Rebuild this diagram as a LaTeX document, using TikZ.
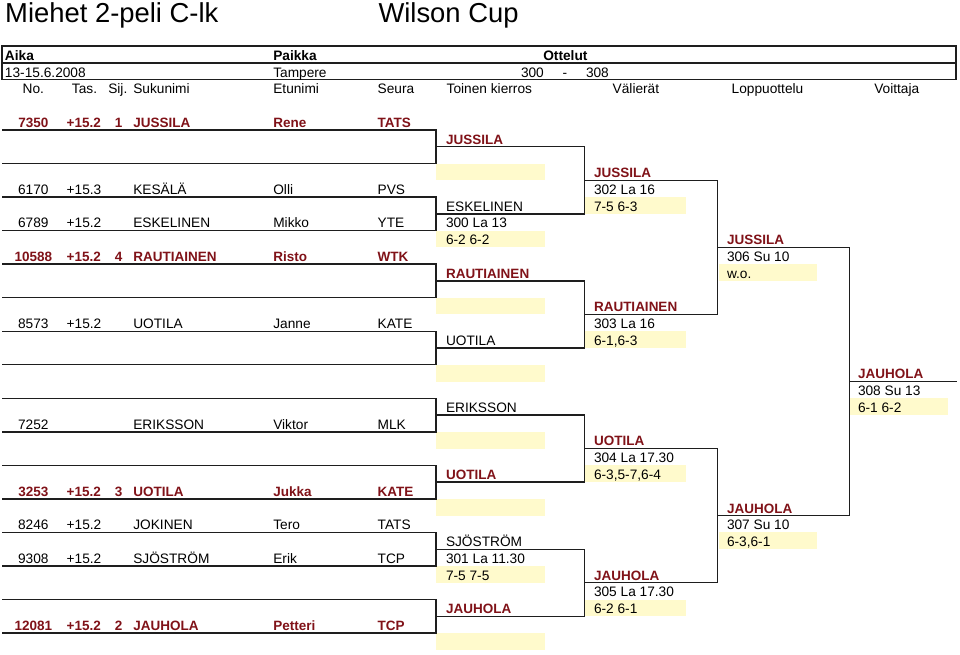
\documentclass[tikz,border=0pt]{standalone}
\usepackage{fontspec}
\setmainfont{Liberation Sans}
\definecolor{dred}{RGB}{128,18,24}
\definecolor{ylw}{RGB}{255,250,204}
\definecolor{lnc}{RGB}{30,30,30}
\newcounter{nn}
\newcommand\tx[4][]{\stepcounter{nn}\node[txt,#1] (t\arabic{nn}) at (#2,#3-0.16) {#4};}
\newcommand\player[7][]{%
  \tx[#1,ctr]{33.3}{#2}{#3}\tx[#1]{66.7}{#2}{#4}\tx[#1]{133.3}{#2}{#5}\tx[#1]{273.3}{#2}{#6}\tx[#1]{377.7}{#2}{#7}}
\begin{document}
\begin{tikzpicture}[
  txt/.style={anchor=base west, inner sep=0pt, outer sep=0pt, font=\fontsize{13.7}{16}\selectfont, text=black},
  bld/.style={font=\fontsize{13.7}{16}\selectfont\bfseries},
  win/.style={text=dred, font=\fontsize{13.5}{16}\selectfont\bfseries},
  ctr/.style={anchor=base},
  ln/.style={line width=1.4pt, draw=lnc},
  yel/.style={fill=ylw, draw=none},
  ttl/.style={anchor=base west, inner sep=0pt, font=\fontsize{27.4}{30}\selectfont}]
\useasboundingbox (0,0) rectangle (960pt,-655pt);
\fill[white] (0,0) rectangle (960pt,-655pt);
\begin{scope}[x=1pt,y=-16.77pt,yshift=-130pt]
% title
\node[ttl] (title) at (5,-6.40) {Miehet 2-peli C-lk};
\node[ttl] (cup) at (378.3,-6.40) {Wilson Cup};
% header box
\draw[ln] (2,-5) rectangle (956,-3);
\draw[ln] (2,-4) -- (956,-4);
\tx[bld]{5}{-4}{Aika}
\tx[bld]{273.3}{-4}{Paikka}
\tx[bld]{543.3}{-4}{Ottelut}
\tx{5}{-3}{13-15.6.2008}
\tx{273.3}{-3}{Tampere}
\tx{521}{-3}{300}
\tx{562.7}{-3}{-}
\tx{586}{-3}{308}
% column headers
\tx[ctr]{33.3}{-2}{No.}
\tx[ctr]{84.5}{-2}{Tas.}
\tx{108.3}{-2}{Sij.}
\tx{133.3}{-2}{Sukunimi}
\tx{273.3}{-2}{Etunimi}
\tx{377.7}{-2}{Seura}
\tx{446.7}{-2}{Toinen kierros}
\tx{612.7}{-2}{Välierät}
\tx{731.7}{-2}{Loppuottelu}
\tx{874.3}{-2}{Voittaja}
% yellow boxes
\foreach \a in {2,6,10,14,18,22,26,30} \fill[yel] (436,\a) rectangle (545,\a+1);
\foreach \a in {4,12,20,28} \fill[yel] (585,\a) rectangle (686,\a+1);
\foreach \a in {8,24} \fill[yel] (719,\a) rectangle (817,\a+1);
\fill[yel] (850,16) rectangle (948,17);
% bracket lines
\foreach \a in {0,4,8,12,16,20,24,28} \draw[ln] (2,\a) -- (436,\a) -- (436,\a+2) -- (2,\a+2);
\foreach \a in {1,9,17,25} \draw[ln] (436,\a) -- (584.5,\a) -- (584.5,\a+4) -- (436,\a+4);
\foreach \a in {3,19} \draw[ln] (584.5,\a) -- (717.5,\a) -- (717.5,\a+8) -- (584.5,\a+8);
\draw[ln] (717.5,7) -- (849.5,7) -- (849.5,23) -- (717.5,23);
\draw[ln] (849.5,15) -- (957,15);
% players
\player[win]{0}{7350}{+15.2}{JUSSILA}{Rene}{TATS}\tx[win,ctr]{118.7}{0}{1}
\player{4}{6170}{+15.3}{KESÄLÄ}{Olli}{PVS}
\player{6}{6789}{+15.2}{ESKELINEN}{Mikko}{YTE}
\player[win]{8}{10588}{+15.2}{RAUTIAINEN}{Risto}{WTK}\tx[win,ctr]{118.7}{8}{4}
\player{12}{8573}{+15.2}{UOTILA}{Janne}{KATE}
\tx[ctr]{33.3}{18}{7252}\tx{133.3}{18}{ERIKSSON}\tx{273.3}{18}{Viktor}\tx{377.7}{18}{MLK}
\player[win]{22}{3253}{+15.2}{UOTILA}{Jukka}{KATE}\tx[win,ctr]{118.7}{22}{3}
\player{24}{8246}{+15.2}{JOKINEN}{Tero}{TATS}
\player{26}{9308}{+15.2}{SJÖSTRÖM}{Erik}{TCP}
\player[win]{30}{12081}{+15.2}{JAUHOLA}{Petteri}{TCP}\tx[win,ctr]{118.7}{30}{2}
% round 1
\tx[win]{446}{1}{JUSSILA}
\tx{446}{5}{ESKELINEN}\tx{446}{6}{300 La 13}\tx{446}{7}{6-2 6-2}
\tx[win]{446}{9}{RAUTIAINEN}
\tx{446}{13}{UOTILA}
\tx{446}{17}{ERIKSSON}
\tx[win]{446}{21}{UOTILA}
\tx{446}{25}{SJÖSTRÖM}\tx{446}{26}{301 La 11.30}\tx{446}{27}{7-5 7-5}
\tx[win]{446}{29}{JAUHOLA}
% round 2
\tx[win]{594}{3}{JUSSILA}\tx{594}{4}{302 La 16}\tx{594}{5}{7-5 6-3}
\tx[win]{594}{11}{RAUTIAINEN}\tx{594}{12}{303 La 16}\tx{594}{13}{6-1,6-3}
\tx[win]{594}{19}{UOTILA}\tx{594}{20}{304 La 17.30}\tx{594}{21}{6-3,5-7,6-4}
\tx[win]{594}{27}{JAUHOLA}\tx{594}{28}{305 La 17.30}\tx{594}{29}{6-2 6-1}
% round 3
\tx[win]{727}{7}{JUSSILA}\tx{727}{8}{306 Su 10}\tx{727}{9}{w.o.}
\tx[win]{727}{23}{JAUHOLA}\tx{727}{24}{307 Su 10}\tx{727}{25}{6-3,6-1}
% final
\tx[win]{858}{15}{JAUHOLA}\tx{858}{16}{308 Su 13}\tx{858}{17}{6-1 6-2}
\end{scope}
\end{tikzpicture}
\end{document}
